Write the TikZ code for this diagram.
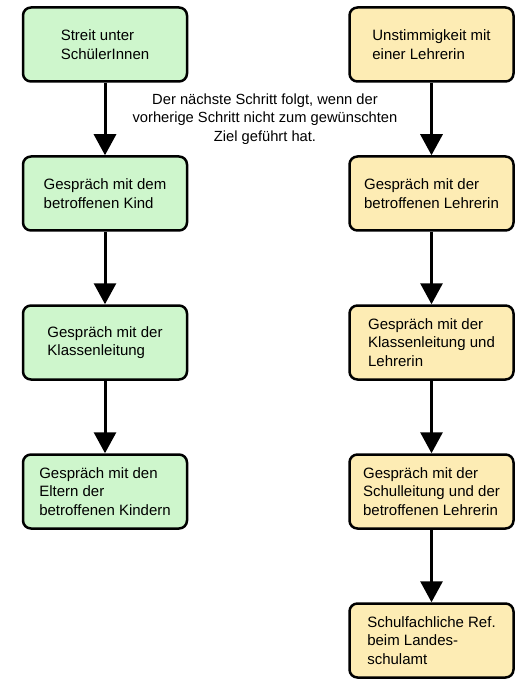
\documentclass[tikz,border=0pt]{standalone}
\usepackage{fontspec}
\setmainfont{Liberation Sans}
\usetikzlibrary{arrows.meta}
\definecolor{gfill}{RGB}{206,246,204}
\definecolor{yfill}{RGB}{253,236,180}
\tikzset{
  stepbox/.style={draw=black, line width=2.5pt, rounded corners=8pt, minimum width=164pt, minimum height=74pt, align=left, inner sep=0pt, font=\fontsize{15pt}{18.5pt}\selectfont},
  gbox/.style={stepbox, fill=gfill},
  ybox/.style={stepbox, fill=yfill},
  flow/.style={line width=3pt, -{Triangle[width=22pt,length=21pt]}},
}
\begin{document}
\begin{tikzpicture}[x=1pt,y=-1pt]
\useasboundingbox (0,0) rectangle (530,700);
\fill[white] (0,0) rectangle (530,700);
% left column
\node[gbox] (l1) at (105,44.5) {Streit unter\\SchülerInnen};
\node[gbox] (l2) at (105,193.5) {Gespräch mit dem\\betroffenen Kind};
\node[gbox] (l3) at (105,342.5) {Gespräch mit der\\Klassenleitung};
\node[gbox] (l4) at (105,491.5) {Gespräch mit den\\Eltern der\\betroffenen Kindern};
% right column
\node[ybox] (r1) at (431.5,44.5) {Unstimmigkeit mit\\einer Lehrerin};
\node[ybox] (r2) at (431.5,193.5) {Gespräch mit der\\betroffenen Lehrerin};
\node[ybox] (r3) at (431.5,342.5) {Gespräch mit der\\Klassenleitung und\\Lehrerin};
\node[ybox] (r4) at (431.5,491.5) {Gespräch mit der\\Schulleitung und der\\betroffenen Lehrerin};
\node[ybox] (r5) at (431.5,640.5) {Schulfachliche Ref.\\beim Landes-\\schulamt};
% note
\node[align=center, inner sep=0pt, font=\fontsize{14.7pt}{18.5pt}\selectfont] (note) at (265,119) {Der nächste Schritt folgt, wenn der\\vorherige Schritt nicht zum gewünschten\\Ziel geführt hat.};
% arrows
\draw[flow] (l1.south) -- (l2.north);
\draw[flow] (l2.south) -- (l3.north);
\draw[flow] (l3.south) -- (l4.north);
\draw[flow] (r1.south) -- (r2.north);
\draw[flow] (r2.south) -- (r3.north);
\draw[flow] (r3.south) -- (r4.north);
\draw[flow] (r4.south) -- (r5.north);
\end{tikzpicture}
\end{document}
